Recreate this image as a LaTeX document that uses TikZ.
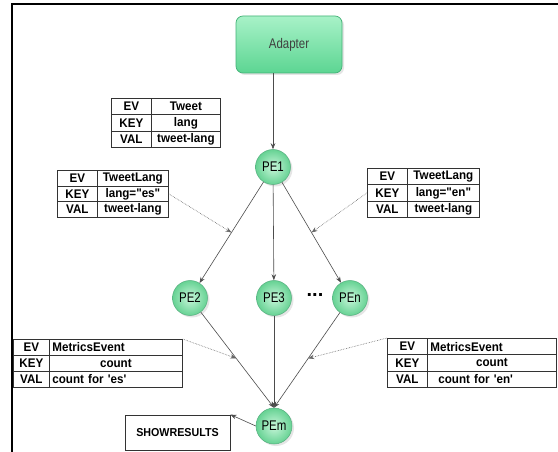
\documentclass[tikz,border=0pt]{standalone}
\usepackage{fontspec}
\setmainfont{Liberation Sans}
\newfontfamily\nfont{Liberation Sans}[FakeStretch=0.93]
\newfontfamily\pfont{Liberation Sans}[FakeStretch=0.82]
\usetikzlibrary{arrows.meta,shadows,calc}
\definecolor{pein}{HTML}{C8F6DA}
\definecolor{peout}{HTML}{66D293}
\definecolor{peline}{HTML}{55AE7E}
\definecolor{adtop}{HTML}{A8F2C8}
\definecolor{adbot}{HTML}{5CD592}
\definecolor{adline}{HTML}{43B277}
\newcommand\tblrow[9]{%
  \node[cell, minimum width={#3-#2}, minimum height=#6] (#1l) at (#2,#5) {#7};
  \node[cell, minimum width={#4-#3}, minimum height=#6, #9] (#1r) at (#3,#5) {#8};
}
\begin{document}
\begin{tikzpicture}[x=1pt,y=-1pt,
  cell/.style={draw=black!80, line width=0.8pt, inner sep=0pt, anchor=north west,
    font=\nfont\bfseries\fontsize{12.5}{13}\selectfont},
  lft/.style={text width=#1, align=left, inner xsep=3pt},
  pe/.style={circle, minimum size=35pt, inner sep=0pt, inner color=pein, outer color=peout,
    draw=peline, line width=0.5pt, font=\pfont\fontsize{14}{14}\selectfont,
    drop shadow={opacity=0.2, shadow xshift=2pt, shadow yshift=-2pt}},
  adapter/.style={rectangle, rounded corners=7pt, minimum width=106pt, minimum height=57pt,
    top color=adtop, bottom color=adbot, draw=adline, line width=0.7pt, text=black!75,
    font=\pfont\fontsize{14}{14}\selectfont,
    drop shadow={opacity=0.2, shadow xshift=2pt, shadow yshift=-2pt}},
  box/.style={rectangle, draw=black!80, line width=0.8pt, minimum width=105pt, minimum height=35pt,
    inner sep=0pt, font=\nfont\bfseries\fontsize{11.5}{12}\selectfont},
  conn/.style={draw=black!70, line width=0.6pt, -{Stealth[length=6pt,width=4.5pt]}},
  dotconn/.style={draw=black!60, line width=0.6pt, densely dotted, -{Stealth[length=6pt,width=4.5pt]}},
]
\useasboundingbox (0,0) rectangle (558,452);
\fill[white] (0,0) rectangle (558,452);
% frame
\draw[line width=2pt] (12,452) -- (12,4) -- (558,4);

% main nodes
\node[adapter] (ad) at (289,44.5) {Adapter};
\node[pe] (PE1) at (273,167) {PE1};
\node[pe] (PE2) at (190,298) {PE2};
\node[pe] (PE3) at (274,298) {PE3};
\node[pe] (PEn) at (350,298) {PEn};
\node[font=\bfseries\fontsize{20}{20}\selectfont] (dots) at (315,295) {...};
\node[pe, minimum size=36pt] (PEm) at (274,426) {PEm};
\node[box] (sr) at (177.5,432.5) {SHOWRESULTS};

% tables
\tblrow{t1e}{111}{151}{220}{98}{16.33}{EV}{Tweet}{}
\tblrow{t1k}{111}{151}{220}{114.33}{16.33}{KEY}{lang}{}
\tblrow{t1v}{111}{151}{220}{130.67}{16.33}{VAL}{tweet-lang}{}

\tblrow{t2e}{57}{97}{168}{170}{15.67}{EV}{TweetLang}{}
\tblrow{t2k}{57}{97}{168}{185.67}{15.67}{KEY}{lang="es"}{}
\tblrow{t2v}{57}{97}{168}{201.33}{15.67}{VAL}{tweet-lang}{}

\tblrow{t3e}{367}{407}{479}{168}{16.33}{EV}{TweetLang}{}
\tblrow{t3k}{367}{407}{479}{184.33}{16.33}{KEY}{lang="en"}{}
\tblrow{t3v}{367}{407}{479}{200.67}{16.33}{VAL}{tweet-lang}{}

\tblrow{t4e}{13}{49}{182}{339}{16}{EV}{MetricsEvent}{lft=127pt}
\tblrow{t4k}{13}{49}{182}{355}{16}{KEY}{count}{}
\tblrow{t4v}{13}{49}{182}{371}{16}{VAL}{count for 'es'}{lft=127pt}

\tblrow{t5e}{387}{427}{556}{338}{16.33}{EV}{MetricsEvent}{lft=123pt}
\tblrow{t5k}{387}{427}{556}{354.33}{16.33}{KEY}{count}{}
\tblrow{t5v}{387}{427}{556}{370.67}{16.33}{VAL}{\hspace*{8pt}count for 'en'}{lft=123pt}

% connectors
\draw[conn] (ad.south -| PE1) -- (PE1);
\draw[conn] (PE1) -- (PE2);
\draw[conn] (PE1) -- (PE3);
\draw[conn] (PE1) -- (PEn);
\draw[conn] (PE2) -- (PEm.north);
\draw[conn] (PE3) -- (PEm.north);
\draw[conn] (PEn) -- (PEm.north);
\draw[conn] (PEm.west) -- (sr.north east);

% annotations
\coordinate (d2) at ($(PE1)!0.5!(PE2)$);
\coordinate (d3) at ($(PE1)!0.5!(PEn)$);
\coordinate (d4) at ($(PE2)!0.55!(PEm.north)$);
\coordinate (d5) at ($(PEn)!0.55!(PEm.north)$);
\draw[dotconn] (t2kr.east) -- (d2);
\draw[dotconn] (t3kl.west) -- (d3);
\draw[dotconn] (t4er.north east) -- (d4);
\draw[dotconn] (t5el.north west) -- (d5);
\end{tikzpicture}
\end{document}
